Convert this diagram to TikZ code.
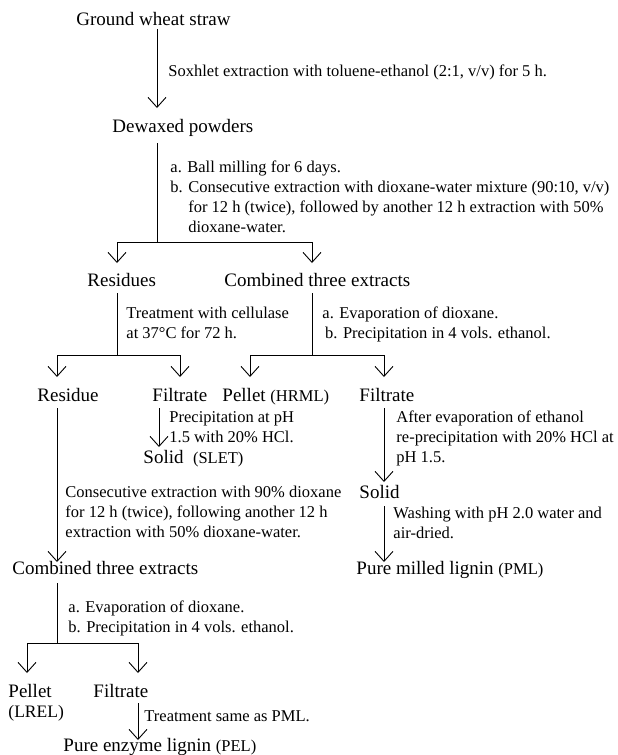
\documentclass[tikz,border=0pt]{standalone}
\usepackage{fontspec}
\setmainfont{Liberation Serif}
\usetikzlibrary{arrows.meta}
\newcommand{\abbr}[1]{{\fontsize{16.5}{18}\selectfont(#1)}}

\begin{document}
\begin{tikzpicture}[x=1pt,y=-1pt,line width=0.9pt,
    every node/.style={anchor=base west,inner sep=0pt},
    lbl/.style={font=\fontsize{19}{22}\selectfont},
    note/.style={font=\fontsize{16.5}{19.7}\selectfont,align=left},
    flow/.style={-{Straight Barb[length=10pt,width=18pt]}}]
\useasboundingbox (0,0) rectangle (618,755);
          \coordinate (p1) at (157,29);
          \coordinate (p2) at (157,108);
          \coordinate (p3) at (157,143);
          \coordinate (p4) at (157,242);
          \coordinate (p5) at (117,242);
          \coordinate (p6) at (312,242);
          \coordinate (p7) at (117,263);
          \coordinate (p8) at (312,263);
          \coordinate (p9) at (117,293);
          \coordinate (p10) at (117,355);
          \coordinate (p11) at (57,355);
          \coordinate (p12) at (180,355);
          \coordinate (p13) at (57,377);
          \coordinate (p14) at (180,377);
          \coordinate (p15) at (312,293);
          \coordinate (p16) at (312,355);
          \coordinate (p17) at (250,355);
          \coordinate (p18) at (384,355);
          \coordinate (p19) at (250,377);
          \coordinate (p20) at (384,377);
          \coordinate (p21) at (57,408);
          \coordinate (p22) at (57,562);
          \coordinate (p23) at (159,408);
          \coordinate (p24) at (159,447);
          \coordinate (p25) at (384,408);
          \coordinate (p26) at (384,482);
          \coordinate (p27) at (384,506);
          \coordinate (p28) at (384,562);
          \coordinate (p29) at (57,583);
          \coordinate (p30) at (57,643);
          \coordinate (p31) at (27,643);
          \coordinate (p32) at (138,643);
          \coordinate (p33) at (27,673);
          \coordinate (p34) at (138,673);
          \coordinate (p35) at (138,703);
          \coordinate (p36) at (138,740);
        % step 1
        \node[lbl] (gws) at (76,25) {Ground wheat straw};
        \draw[flow] (p1) -- (p2);
        \node[note] (sox) at (168,76) {Soxhlet extraction with toluene-ethanol (2:1, v/v) for 5 h.};
        \node[lbl] (dwp) at (112,132) {Dewaxed powders};
        % step 2 (multi-line notes sit on their last baseline)
        \draw (p3) -- (p4);
        \draw (p5) -- (p6);
        \draw[flow] (p5) -- (p7);
        \draw[flow] (p6) -- (p8);
        \node[note] (bm) at (170,232) {a. Ball milling for 6 days.\\
          b. Consecutive extraction with dioxane-water mixture (90:10, v/v)\\
          \phantom{b. }for 12 h (twice), followed by another 12 h extraction with 50\%\\
          \phantom{b. }dioxane-water.};
        \node[lbl] (res) at (87,286) {Residues};
        \node[lbl] (cte1) at (224,286) {Combined three extracts};
        % step 3
        \draw (p9) -- (p10);
        \draw (p11) -- (p12);
        \draw[flow] (p11) -- (p13);
        \draw[flow] (p12) -- (p14);
        \draw (p15) -- (p16);
        \draw (p17) -- (p18);
        \draw[flow] (p17) -- (p19);
        \draw[flow] (p18) -- (p20);
        \node[note] (cel) at (126,338) {Treatment with cellulase\\at 37°C for 72 h.};
        \node[note] (evp1) at (322,338) {a. Evaporation of dioxane.\\\,b. Precipitation in 4 vols. ethanol.};
        \node[lbl] (rsd) at (37,401) {Residue};
        \node[lbl] (flt1) at (152,401) {Filtrate};
        \node[lbl] (pel1) at (222,401) {Pellet \abbr{HRML}};
        \node[lbl] (flt2) at (359,401) {Filtrate};
        % step 4
        \draw[flow] (p23) -- (p24);
        \node[note] (prc) at (169,442) {Precipitation at pH\\1.5 with 20\% HCl.};
        \node[lbl] (sld1) at (143,463) {Solid\ \ \abbr{SLET}};
        \draw[flow] (p25) -- (p26);
        \node[note] (aft) at (396,462) {After evaporation of ethanol\\re-precipitation with 20\% HCl at\\pH 1.5.};
        \node[lbl] (sld2) at (359,498) {Solid};
        \draw[flow] (p27) -- (p28);
        \node[note] (wsh) at (393,538) {Washing with pH 2.0 water and\\air-dried.};
        \node[lbl] (pml) at (356,574) {Pure milled lignin \abbr{PML}};
        \draw[flow] (p21) -- (p22);
        \node[note] (cons) at (65,537) {Consecutive extraction with 90\% dioxane\\for 12 h (twice), following another 12 h\\extraction with 50\% dioxane-water.};
        \node[lbl] (cte2) at (12,574) {Combined three extracts};
        % step 5
        \draw (p29) -- (p30);
        \draw (p31) -- (p32);
        \draw[flow] (p31) -- (p33);
        \draw[flow] (p32) -- (p34);
        \node[note] (evp2) at (68,632) {a. Evaporation of dioxane.\\b. Precipitation in 4 vols. ethanol.};
        \node[lbl] (pel2) at (8,697) {Pellet};
        \node[lbl,font=\fontsize{17.5}{20}\selectfont] (lrel) at (8,717) {(LREL)};
        \node[lbl] (flt3) at (93,697) {Filtrate};
        \draw[flow] (p35) -- (p36);
        \node[note] (tsm) at (144,721) {Treatment same as PML.};
        \node[lbl] (pel) at (63,751) {Pure enzyme lignin \abbr{PEL}};
\end{tikzpicture}
\end{document}
